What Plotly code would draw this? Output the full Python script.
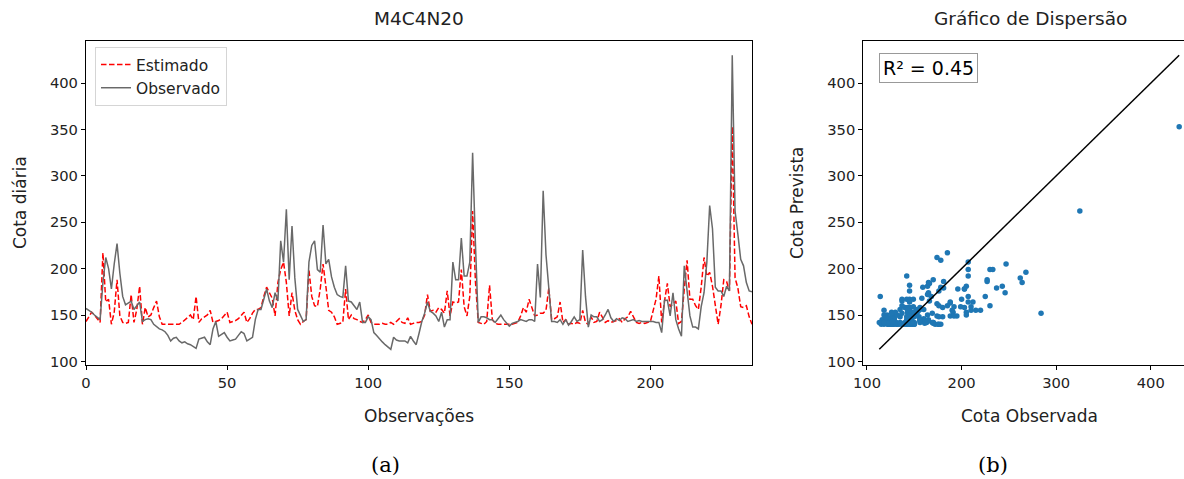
import plotly.graph_objects as go

observado = [157,155,153,150,147,145,185,212,200,178,205,227,195,170,161,163,165,156,160,164,
             143,145,146,145,140,137,135,134,132,128,122,125,126,122,120,121,119,118,116,114,
             124,125,126,121,118,135,143,127,129,131,126,122,123,124,128,132,130,122,124,126,
             145,156,156,168,178,165,158,174,165,230,207,264,188,246,190,156,150,143,145,207,
             225,230,199,196,247,205,210,191,180,172,170,169,203,165,164,160,156,164,142,142,
             148,145,131,128,124,121,118,115,113,126,123,122,122,122,120,127,122,118,130,143,
             152,164,154,152,149,143,153,137,145,145,207,188,188,233,192,192,207,325,227,142,
             148,148,147,145,145,142,146,150,145,142,138,141,142,143,145,144,143,145,145,143,
             205,169,284,215,181,143,143,142,145,140,145,139,143,148,143,145,220,170,137,150,
             148,148,143,145,150,156,147,143,146,144,147,146,143,144,145,143,144,143,143,143,
             143,143,142,142,131,166,166,149,174,145,135,127,203,178,149,137,137,135,159,174,
             207,268,243,180,176,176,170,181,176,430,262,237,210,203,185,176,175]

estimado = [143,148,153,150,146,142,217,164,167,140,153,188,149,142,141,142,172,142,156,181,
            140,158,148,150,158,165,148,140,140,140,140,140,140,140,142,145,148,150,145,170,
            142,146,148,150,155,142,143,144,146,150,153,142,143,144,146,150,153,142,146,152,
            156,156,158,170,180,174,168,149,185,199,207,185,149,174,155,145,140,143,145,199,
            170,160,159,178,205,181,155,153,148,140,141,142,178,145,150,146,145,143,142,145,
            150,142,140,140,140,141,140,140,142,140,143,146,142,141,147,140,141,142,142,143,
            150,172,154,155,153,158,156,152,176,149,164,163,164,199,159,149,170,262,186,142,
            141,140,143,182,145,141,140,140,140,140,140,140,141,142,149,158,153,167,158,149,
            150,152,152,155,179,145,146,148,164,142,145,140,141,140,142,141,155,142,140,148,
            142,143,153,147,142,144,142,143,144,146,142,146,148,154,148,142,141,142,141,142,
            143,155,167,192,142,165,184,159,162,165,141,143,178,209,167,167,160,156,180,212,
            192,196,181,158,140,160,188,186,176,353,190,179,159,158,160,148,140]

indices = list(range(len(observado)))
titulo_a = "M4C4N20"
titulo_b = "Gráfico de Dispersão"
r2_texto = "R² = 0.45"
ticks_x_a = [0, 50, 100, 150, 200]
ticks_y = [100, 150, 200, 250, 300, 350, 400]
ticks_x_b = [100, 200, 300, 400]

W, H = 1184, 479
def px(x):
    return x / W
def py(y):
    return 1 - y / H

FONT = "DejaVu Sans"
fig = go.Figure()

fig.add_trace(go.Scatter(x=indices, y=estimado, mode="lines", name="Estimado",
                         line=dict(color="red", width=1.5, dash="5.5px,2.5px"),
                         xaxis="x", yaxis="y"))
fig.add_trace(go.Scatter(x=indices, y=observado, mode="lines", name="Observado",
                         line=dict(color="dimgray", width=1.5),
                         xaxis="x", yaxis="y"))

fig.add_trace(go.Scatter(x=observado, y=estimado, mode="markers", showlegend=False,
                         marker=dict(color="#1f77b4", size=5.5),
                         xaxis="x2", yaxis="y2"))
lo, hi = min(observado), max(observado)
fig.add_trace(go.Scatter(x=[lo, hi], y=[lo, hi], mode="lines", showlegend=False,
                         line=dict(color="black", width=1.5),
                         xaxis="x2", yaxis="y2"))

yr = [96.1, 445.9]
common = dict(showline=True, linecolor="black", linewidth=1.2, ticks="outside",
              ticklen=4, tickwidth=1, tickcolor="black", showgrid=False, zeroline=False,
              automargin=False,
              tickfont=dict(family=FONT, size=14.7, color="#222"))

fig.update_layout(
    width=W, height=H, margin=dict(l=0, r=0, t=0, b=0, autoexpand=False),
    paper_bgcolor="white", plot_bgcolor="white",
    xaxis=dict(domain=[px(86), px(752)], range=[0, 236], tickvals=ticks_x_a,
               mirror=True, anchor="y", **common),
    yaxis=dict(domain=[py(365), py(40.5)], range=yr, tickvals=ticks_y,
               mirror=True, anchor="x", **common),
    xaxis2=dict(domain=[px(863.3), 1.0], range=[96.1, 435.1], tickvals=ticks_x_b,
                mirror=True, anchor="y2", **common),
    yaxis2=dict(domain=[py(365), py(40.5)], range=yr, tickvals=ticks_y,
                mirror=False, anchor="x2", **common),
    legend=dict(x=px(95), y=py(47), xanchor="left", yanchor="top",
                bgcolor="white", bordercolor="#d5d5d5", borderwidth=1,
                font=dict(family=FONT, size=15.5, color="#222"),
                tracegroupgap=0, itemwidth=30),
    showlegend=True,
)

ann = []
def text(x, y, t, size, angle=0, family=FONT, color="#222"):
    ann.append(dict(x=px(x), y=py(y), xref="paper", yref="paper", text=t,
                    showarrow=False, textangle=angle, xanchor="center", yanchor="middle",
                    font=dict(family=family, size=size, color=color)))

text(419, 18, titulo_a, 18.5)
text(1030, 18, titulo_b, 18.5)
text(20, 203, "Cota diária", 17, angle=-90)
text(797, 203, "Cota Prevista", 17, angle=-90)
text(419, 416, "Observações", 17)
text(1029, 416, "Cota Observada", 17)
text(386, 465, "(a)", 21, family="DejaVu Serif", color="black")
text(993, 465, "(b)", 21, family="DejaVu Serif", color="black")

ann.append(dict(x=px(928), y=py(68.5), xref="paper", yref="paper", text=r2_texto,
                showarrow=False, xanchor="center", yanchor="middle",
                font=dict(family=FONT, size=19, color="black"),
                bordercolor="#999999", borderwidth=1, borderpad=3, bgcolor="white"))
fig.update_layout(annotations=ann)

fig.write_html("out.html", config={"displayModeBar": False},
               post_script="document.body.style.margin='0';document.body.style.overflow='hidden';")
